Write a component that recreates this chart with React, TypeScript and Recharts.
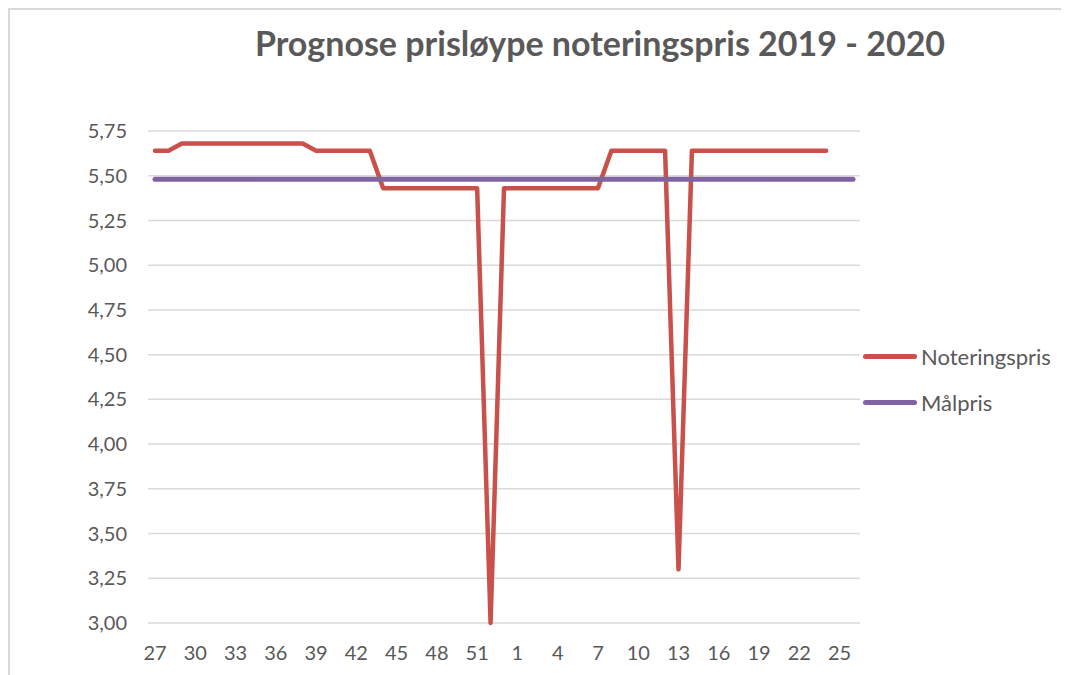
import React from "react";
import { LineChart, Line, XAxis, YAxis, CartesianGrid } from "recharts";

const weeks: string[] = [
  "27","28","29","30","31","32","33","34","35","36","37","38","39","40","41","42","43","44","45","46","47","48","49","50","51","52","53",
  "1","2","3","4","5","6","7","8","9","10","11","12","13","14","15","16","17","18","19","20","21","22","23","24","25","26",
];

const noteringspris: (number | null)[] = [
  5.64, 5.64, 5.68, 5.68, 5.68, 5.68, 5.68, 5.68, 5.68, 5.68, 5.68, 5.68, 5.64, 5.64, 5.64, 5.64, 5.64,
  5.43, 5.43, 5.43, 5.43, 5.43, 5.43, 5.43, 5.43, 3.0, 5.43,
  5.43, 5.43, 5.43, 5.43, 5.43, 5.43, 5.43, 5.64, 5.64, 5.64, 5.64, 5.64, 3.3,
  5.64, 5.64, 5.64, 5.64, 5.64, 5.64, 5.64, 5.64, 5.64, 5.64, 5.64, null, null,
];

const malpris: number[] = weeks.map(() => 5.48);

const yTicks: number[] = [3, 3.25, 3.5, 3.75, 4, 4.25, 4.5, 4.75, 5, 5.25, 5.5, 5.75];

const seriesNames = { noteringspris: "Noteringspris", malpris: "Målpris" };
const titleText = "Prognose prisløype noteringspris 2019 - 2020";

const RED = "#C9504B";
const PURPLE = "#8064A2";
const TEXT = "#595959";
const GRID = "#D9D9D9";
const FONT = "Lato, 'Open Sans', sans-serif";

const data = weeks.map((w, i) => ({
  week: w,
  noteringspris: noteringspris[i],
  malpris: malpris[i],
}));

export default function App() {
  return (
    <div
      style={{
        position: "relative",
        width: 1120,
        height: 720,
        borderTop: `2px solid ${GRID}`,
        borderLeft: `2px solid ${GRID}`,
        boxSizing: "border-box",
        fontFamily: FONT,
        background: "#fff",
        overflow: "hidden",
      }}
    >
      <style>{"html,body{overflow:hidden;}"}</style>
      <div
        style={{
          position: "absolute",
          left: 0,
          width: 1180,
          top: 12,
          textAlign: "center",
          fontSize: 34,
          fontWeight: 700,
          color: TEXT,
          fontFamily: FONT,
          whiteSpace: "nowrap",
        }}
      >
        {titleText}
      </div>
      <LineChart
        width={1059}
        height={657}
        data={data}
        margin={{ top: 121, right: 209, bottom: 14, left: 78 }}
      >
        <CartesianGrid vertical={false} stroke={GRID} strokeWidth={1.5} />
        <XAxis
          dataKey="week"
          interval={2}
          axisLine={false}
          tickLine={false}
          tickSize={0}
          tickMargin={23}
          padding={{ left: 7, right: 7 }}
          tick={{ fill: TEXT, fontSize: 20, fontFamily: FONT }}
        />
        <YAxis
          width={60}
          domain={[3, 5.75]}
          ticks={yTicks}
          interval={0}
          axisLine={false}
          tickLine={false}
          tickSize={0}
          tickMargin={21}
          tickFormatter={(v: number) => v.toFixed(2).replace(".", ",")}
          tick={{ fill: TEXT, fontSize: 20, fontFamily: FONT }}
        />
        <Line
          type="linear"
          dataKey="noteringspris"
          name={seriesNames.noteringspris}
          stroke={RED}
          strokeWidth={4.5}
          strokeLinejoin="round"
          strokeLinecap="round"
          dot={false}
          activeDot={false}
          connectNulls={false}
          isAnimationActive={false}
        />
        <Line
          type="linear"
          dataKey="malpris"
          name={seriesNames.malpris}
          stroke={PURPLE}
          strokeWidth={5}
          strokeLinecap="round"
          dot={false}
          activeDot={false}
          isAnimationActive={false}
        />
      </LineChart>
      <div style={{ position: "absolute", left: 853, top: 323, fontFamily: FONT, color: TEXT, fontSize: 22 }}>
        {[
          { name: seriesNames.noteringspris, color: RED },
          { name: seriesNames.malpris, color: PURPLE },
        ].map((it) => (
          <div key={it.name} style={{ display: "flex", alignItems: "center", height: 46 }}>
            <div style={{ width: 54, height: 5, borderRadius: 3, background: it.color, marginRight: 4 }} />
            <span>{it.name}</span>
          </div>
        ))}
      </div>
    </div>
  );
}
